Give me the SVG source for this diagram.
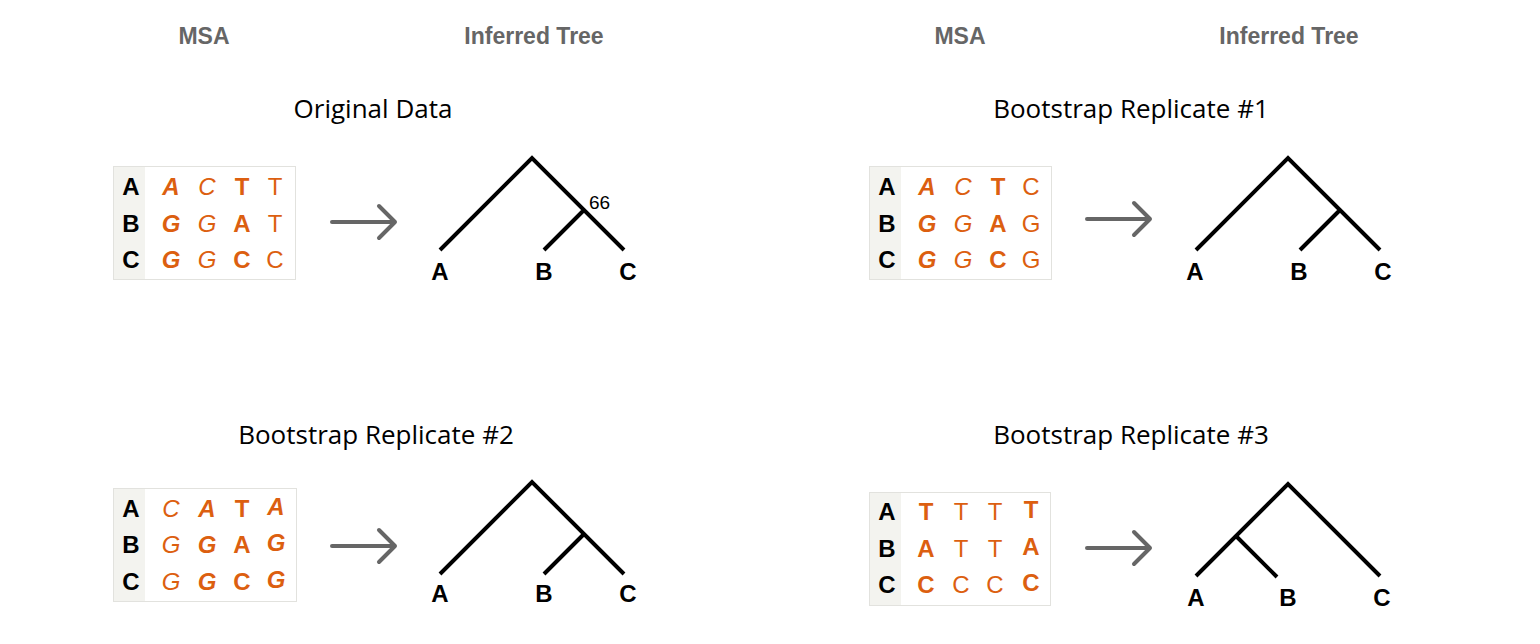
<svg xmlns="http://www.w3.org/2000/svg" width="1540" height="644" viewBox="0 0 1540 644">
<style>
.hdr{font-family:"Liberation Sans",Arial,sans-serif;font-weight:bold;font-size:23px;fill:#666;text-anchor:middle}
.ttl{font-family:"Open Sans","Noto Sans",sans-serif;font-size:26px;fill:#000;text-anchor:middle}
.lab{font-family:"Liberation Sans",Arial,sans-serif;font-weight:bold;font-size:24px;fill:#000;text-anchor:middle}
.s{font-family:"Liberation Sans",Arial,sans-serif;font-size:24px;fill:#dc5f10;text-anchor:middle}
.b{font-weight:bold}
.i{font-style:italic}
.col{fill:#f3f3ef}
.box{fill:#fff;stroke:#e2e2de;stroke-width:1}
.tree{fill:none;stroke:#000;stroke-width:4}
.arr{fill:none;stroke:#666;stroke-width:4;stroke-linecap:round;stroke-linejoin:round}
.sup{font-family:"Liberation Sans",Arial,sans-serif;font-size:19px;fill:#000}
</style>
<rect width="1540" height="644" fill="#fff"/>
<g id="headers">
<text class="hdr" x="204" y="44">MSA</text>
<text class="hdr" x="534" y="44">Inferred Tree</text>
<text class="hdr" x="960" y="44">MSA</text>
<text class="hdr" x="1289" y="44">Inferred Tree</text>
</g>
<g id="panel-original">
<text class="ttl" x="373" y="118">Original Data</text>
<g id="msa-original">
<rect class="box" x="113.5" y="166.5" width="182" height="113"/>
<rect class="col" x="114" y="167" width="31" height="112"/>
<text class="lab" x="131" y="195">A</text><text class="lab" x="131" y="232">B</text><text class="lab" x="131" y="268">C</text>
<text class="s b i" x="171" y="195">A</text><text class="s i" x="207" y="195">C</text><text class="s b" x="242" y="195">T</text><text class="s" x="275" y="195">T</text>
<text class="s b i" x="171" y="232">G</text><text class="s i" x="207" y="232">G</text><text class="s b" x="242" y="232">A</text><text class="s" x="275" y="232">T</text>
<text class="s b i" x="171" y="268">G</text><text class="s i" x="207" y="268">G</text><text class="s b" x="242" y="268">C</text><text class="s" x="275" y="268">C</text>
</g>
<g id="tree-original">
<path class="tree" d="M440,250 L532,158 L624,250 M584,210 L544,250"/>
<text class="lab" x="440" y="280">A</text><text class="lab" x="544" y="280">B</text><text class="lab" x="628" y="280">C</text>
<text class="sup" x="589" y="209">66</text>
</g>
</g>
<g id="panel-rep1">
<text class="ttl" x="1131" y="118">Bootstrap Replicate #1</text>
<g id="msa-rep1">
<rect class="box" x="869.5" y="166.5" width="182" height="113"/>
<rect class="col" x="870" y="167" width="31" height="112"/>
<text class="lab" x="887" y="195">A</text><text class="lab" x="887" y="232">B</text><text class="lab" x="887" y="268">C</text>
<text class="s b i" x="927" y="195">A</text><text class="s i" x="963" y="195">C</text><text class="s b" x="998" y="195">T</text><text class="s" x="1031" y="195">C</text>
<text class="s b i" x="927" y="232">G</text><text class="s i" x="963" y="232">G</text><text class="s b" x="998" y="232">A</text><text class="s" x="1031" y="232">G</text>
<text class="s b i" x="927" y="268">G</text><text class="s i" x="963" y="268">G</text><text class="s b" x="998" y="268">C</text><text class="s" x="1031" y="268">G</text>
</g>
<g id="tree-rep1">
<path class="tree" d="M1196,250 L1288,158 L1380,250 M1340,210 L1300,250"/>
<text class="lab" x="1195" y="280">A</text><text class="lab" x="1299" y="280">B</text><text class="lab" x="1383" y="280">C</text>
</g>
</g>
<g id="panel-rep2">
<text class="ttl" x="376" y="444">Bootstrap Replicate #2</text>
<g id="msa-rep2">
<rect class="box" x="113.5" y="488.5" width="183" height="113"/>
<rect class="col" x="114" y="489" width="31" height="112"/>
<text class="lab" x="131" y="517">A</text><text class="lab" x="131" y="553">B</text><text class="lab" x="131" y="590">C</text>
<text class="s i" x="171" y="517">C</text><text class="s b i" x="207" y="517">A</text><text class="s b" x="242" y="517">T</text><text class="s b i" x="276" y="515">A</text>
<text class="s i" x="171" y="553">G</text><text class="s b i" x="207" y="553">G</text><text class="s b" x="242" y="553">A</text><text class="s b i" x="276" y="551">G</text>
<text class="s i" x="171" y="590">G</text><text class="s b i" x="207" y="590">G</text><text class="s b" x="242" y="590">C</text><text class="s b i" x="276" y="588">G</text>
</g>
<g id="tree-rep2">
<path class="tree" d="M440,574 L532,482 L624,574 M584,534 L544,574"/>
<text class="lab" x="440" y="602">A</text><text class="lab" x="544" y="602">B</text><text class="lab" x="628" y="602">C</text>
</g>
</g>
<g id="panel-rep3">
<text class="ttl" x="1131" y="444">Bootstrap Replicate #3</text>
<g id="msa-rep3">
<rect class="box" x="869.5" y="492.5" width="181" height="113"/>
<rect class="col" x="870" y="493" width="31" height="112"/>
<text class="lab" x="887" y="520">A</text><text class="lab" x="887" y="557">B</text><text class="lab" x="887" y="593">C</text>
<text class="s b" x="926" y="520">T</text><text class="s" x="961" y="520">T</text><text class="s" x="995" y="520">T</text><text class="s b" x="1031" y="518">T</text>
<text class="s b" x="926" y="557">A</text><text class="s" x="961" y="557">T</text><text class="s" x="995" y="557">T</text><text class="s b" x="1031" y="555">A</text>
<text class="s b" x="926" y="593">C</text><text class="s" x="961" y="593">C</text><text class="s" x="995" y="593">C</text><text class="s b" x="1031" y="591">C</text>
</g>
<g id="tree-rep3">
<path class="tree" d="M1196,576 L1288,484 L1380,576 M1236,536 L1277,577"/>
<text class="lab" x="1196" y="606">A</text><text class="lab" x="1288" y="606">B</text><text class="lab" x="1382" y="606">C</text>
</g>
</g>
<g id="connectors">
<path class="arr" d="M332,222 L395,222 M379,206 L395,222 L379,238"/>
<path class="arr" d="M1087,219 L1150,219 M1134,203 L1150,219 L1134,235"/>
<path class="arr" d="M332,546 L395,546 M379,530 L395,546 L379,562"/>
<path class="arr" d="M1087,548 L1150,548 M1134,532 L1150,548 L1134,564"/>
</g>
</svg>
